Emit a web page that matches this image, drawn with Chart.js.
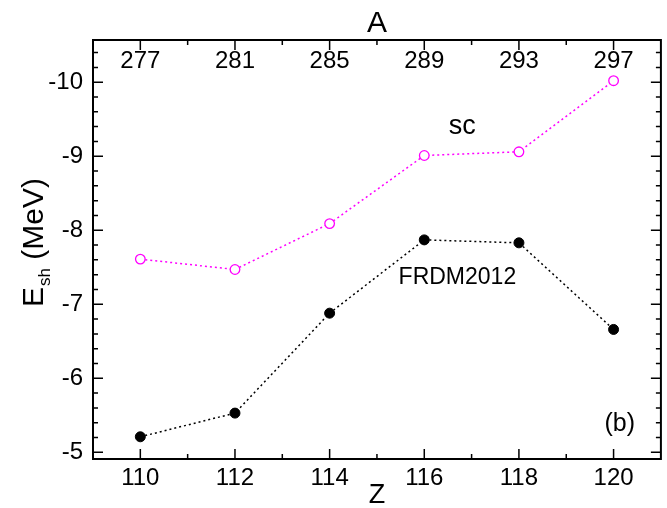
<!DOCTYPE html>
<html>
<head>
<meta charset="utf-8">
<script src="https://cdn.jsdelivr.net/npm/chart.js@4"></script>
<style>
  html, body { margin: 0; padding: 0; background: #fff; }
  #wrap { width: 667px; height: 508px; }
</style>
</head>
<body>
<div id="wrap"><canvas id="chart" width="667" height="508"></canvas></div>
<script>
// Data
const zValues = [110, 112, 114, 116, 118, 120];
const aValues = [277, 281, 285, 289, 293, 297];
const scValues = [-7.61, -7.47, -8.09, -9.01, -9.06, -10.02];
const frdmValues = [-5.21, -5.53, -6.88, -7.87, -7.83, -6.66];
const xTicks = [110, 112, 114, 116, 118, 120];
const yTicks = [-10, -9, -8, -7, -6, -5];

const FONT = '"Liberation Sans", Arial, sans-serif';

// Frame, inward ticks and the extra texts
const decorations = {
  id: 'decorations',
  afterDraw(chart) {
    const ctx = chart.ctx;
    const { left, right, top, bottom } = chart.chartArea;
    const xs = chart.scales.x, ys = chart.scales.y;
    ctx.save();
    ctx.strokeStyle = '#000';
    ctx.lineWidth = 2;
    ctx.strokeRect(left, top, right - left, bottom - top);

    ctx.lineWidth = 1.5;
    ctx.beginPath();
    for (let z = 109; z <= 121; z++) {
      const px = xs.getPixelForValue(z);
      if (px <= left + 1 || px >= right - 1) continue;
      const len = z % 2 === 0 ? 10 : 5;
      ctx.moveTo(px, bottom); ctx.lineTo(px, bottom - len);
      ctx.moveTo(px, top); ctx.lineTo(px, top + len);
    }
    for (let i = -53; i <= -25; i++) {
      const v = i / 5;
      const py = ys.getPixelForValue(v);
      if (py <= top + 1 || py >= bottom - 1) continue;
      const len = i % 5 === 0 ? 10 : 5;
      ctx.moveTo(left, py); ctx.lineTo(left + len, py);
      ctx.moveTo(right, py); ctx.lineTo(right - len, py);
    }
    ctx.stroke();

    ctx.fillStyle = '#000';
    ctx.textAlign = 'center';
    ctx.textBaseline = 'middle';

    // top axis (A)
    ctx.font = '24px ' + FONT;
    aValues.forEach((a, i) => {
      ctx.fillText(String(a), xs.getPixelForValue(zValues[i]), 61);
    });
    ctx.font = '30px ' + FONT;
    ctx.fillText('A', (left + right) / 2, 24);

    // bottom title
    ctx.font = '27px ' + FONT;
    ctx.fillText('Z', (left + right) / 2, 496);

    // annotations
    ctx.font = '27px ' + FONT;
    ctx.fillText('sc', xs.getPixelForValue(116.8), ys.getPixelForValue(-9.4));
    ctx.font = '23px ' + FONT;
    ctx.fillText('FRDM2012', xs.getPixelForValue(116.7), ys.getPixelForValue(-7.36));
    ctx.font = '25px ' + FONT;
    ctx.fillText('(b)', xs.getPixelForValue(120.13), ys.getPixelForValue(-5.38));

    // y title with subscript
    ctx.translate(43, 307);
    ctx.rotate(-Math.PI / 2);
    ctx.textAlign = 'left';
    ctx.textBaseline = 'alphabetic';
    ctx.font = '30px ' + FONT;
    ctx.fillText('E', 0, 0);
    let w = ctx.measureText('E').width;
    ctx.font = '17px ' + FONT;
    ctx.fillText('sh', w + 1, 7);
    w += ctx.measureText('sh').width + 1;
    ctx.font = '30px ' + FONT;
    ctx.fillText(' (MeV)', w, 0);
    ctx.restore();
  }
};

new Chart(document.getElementById('chart'), {
  type: 'line',
  data: {
    datasets: [
      {
        label: 'sc',
        data: zValues.map((z, i) => ({ x: z, y: scValues[i] })),
        borderColor: '#ff00ff',
        borderWidth: 1.5,
        borderDash: [2, 3],
        pointRadius: 4.8,
        pointBorderWidth: 1.3,
        pointBackgroundColor: '#fff',
        pointBorderColor: '#ff00ff',
        tension: 0
      },
      {
        label: 'FRDM2012',
        data: zValues.map((z, i) => ({ x: z, y: frdmValues[i] })),
        borderColor: '#000',
        borderWidth: 1.5,
        borderDash: [2, 3],
        pointRadius: 5,
        pointBorderWidth: 1,
        pointBackgroundColor: '#000',
        pointBorderColor: '#000',
        tension: 0
      }
    ]
  },
  options: {
    responsive: false,
    animation: false,
    layout: { padding: { top: 40, right: 3, left: 0, bottom: 0 } },
    plugins: { legend: { display: false }, tooltip: { enabled: false } },
    scales: {
      x: {
        type: 'linear',
        min: 109,
        max: 121,
        afterBuildTicks: s => { s.ticks = xTicks.map(v => ({ value: v })); },
        afterFit: s => { s.height = 49; },
        grid: { display: false, drawTicks: false },
        border: { display: false },
        ticks: { color: '#000', font: { family: FONT, size: 24 }, padding: 5, maxRotation: 0 }
      },
      y: {
        type: 'linear',
        reverse: true,
        min: -10.57,
        max: -4.91,
        afterBuildTicks: s => { s.ticks = yTicks.map(v => ({ value: v })); },
        afterFit: s => { s.width = 93; },
        grid: { display: false, drawTicks: false },
        border: { display: false },
        ticks: { color: '#000', font: { family: FONT, size: 24 }, padding: 10 }
      }
    }
  },
  plugins: [decorations]
});
</script>
</body>
</html>
